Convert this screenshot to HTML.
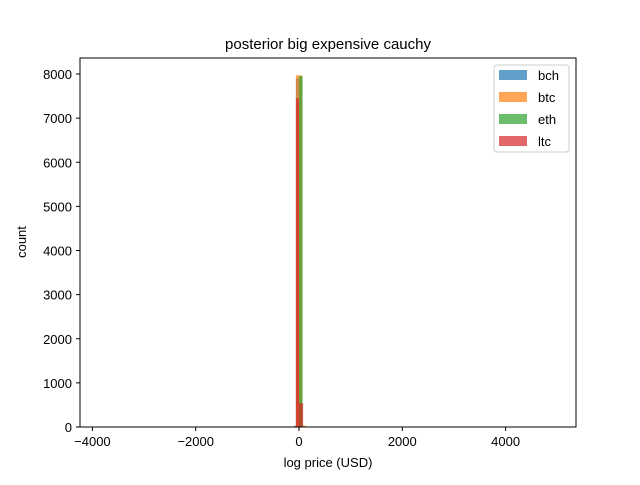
<!DOCTYPE html>
<html><head><meta charset="utf-8"><style>
body{margin:0;background:#fff;font-family:"Liberation Sans","DejaVu Sans",sans-serif}
</style></head><body>
<svg width="640" height="480" xmlns="http://www.w3.org/2000/svg">
<rect width="640" height="480" fill="#fff"/>
<g id="bars"></g>
<rect x="80" y="58" width="496" height="369" fill="none" stroke="#000" stroke-width="1"/>
<g id="axes" font-size="13" fill="#000"></g>
<text x="328" y="49" text-anchor="middle" font-size="15">posterior big expensive cauchy</text>
<text x="328" y="467" text-anchor="middle" font-size="13">log price (USD)</text>
<text transform="translate(26,242) rotate(-90)" text-anchor="middle" font-size="13">count</text>
<g id="legend"></g>
</svg>
<script>
const seriesNames=["bch","btc","eth","ltc"];
const colors=["#1f77b4","#ff7f0e","#2ca02c","#d62728"];
const bchStart=[-60,0];const bchEnd=[0,60];const bchCount=[7900,500];
const btcStart=[-60,60];const btcEnd=[60,130];const btcCount=[7970,30];
const ethStart=[-100,0];const ethEnd=[-60,70];const ethCount=[30,7950];
const ltcStart=[-60,0];const ltcEnd=[0,80];const ltcCount=[7450,540];
const xTicks=[-4000,-2000,0,2000,4000];
const yTicks=[0,1000,2000,3000,4000,5000,6000,7000,8000];
const NS="http://www.w3.org/2000/svg";
const X=v=>299+v*0.05165;
const Y=v=>427-v*0.044125;
const bars=document.getElementById('bars');
const S=[[bchStart,bchEnd,bchCount],[btcStart,btcEnd,btcCount],[ethStart,ethEnd,ethCount],[ltcStart,ltcEnd,ltcCount]];
S.forEach((s,i)=>{s[0].forEach((st,j)=>{
const r=document.createElementNS(NS,'rect');
r.setAttribute('x',X(st));r.setAttribute('width',X(s[1][j])-X(st));
r.setAttribute('y',Y(s[2][j]));r.setAttribute('height',427-Y(s[2][j]));
r.setAttribute('fill',colors[i]);r.setAttribute('fill-opacity','0.7');


bars.appendChild(r);});});
const ax=document.getElementById('axes');
xTicks.forEach(t=>{const x=X(t);
const l=document.createElementNS(NS,'line');l.setAttribute('x1',x);l.setAttribute('x2',x);l.setAttribute('y1',427);l.setAttribute('y2',431);l.setAttribute('stroke','#000');

ax.appendChild(l);
const tx=document.createElementNS(NS,'text');tx.setAttribute('x',x);tx.setAttribute('y',446);tx.setAttribute('text-anchor','middle');tx.textContent=t<0?'\u2212'+(-t):t;

ax.appendChild(tx);});
yTicks.forEach(t=>{const y=Y(t);
const l=document.createElementNS(NS,'line');l.setAttribute('x1',76);l.setAttribute('x2',80);l.setAttribute('y1',y);l.setAttribute('y2',y);l.setAttribute('stroke','#000');

ax.appendChild(l);
const tx=document.createElementNS(NS,'text');tx.setAttribute('x',72);tx.setAttribute('y',y+5);tx.setAttribute('text-anchor','end');tx.textContent=t;

ax.appendChild(tx);});
const lg=document.getElementById('legend');
const box=document.createElementNS(NS,'rect');box.setAttribute('x',494);box.setAttribute('y',65);box.setAttribute('width',75);box.setAttribute('height',87);box.setAttribute('rx',3);box.setAttribute('fill','#fff');box.setAttribute('fill-opacity','0.8');box.setAttribute('stroke','#ccc');

lg.appendChild(box);
seriesNames.forEach((n,i)=>{const y=70+i*22;
const r=document.createElementNS(NS,'rect');r.setAttribute('x',499);r.setAttribute('y',y);r.setAttribute('width',28);r.setAttribute('height',10);r.setAttribute('fill',colors[i]);r.setAttribute('fill-opacity','0.7');

lg.appendChild(r);
const t=document.createElementNS(NS,'text');t.setAttribute('x',538);t.setAttribute('y',y+10);t.setAttribute('font-size','13');t.textContent=n;

lg.appendChild(t);});
</script>
</body></html>
